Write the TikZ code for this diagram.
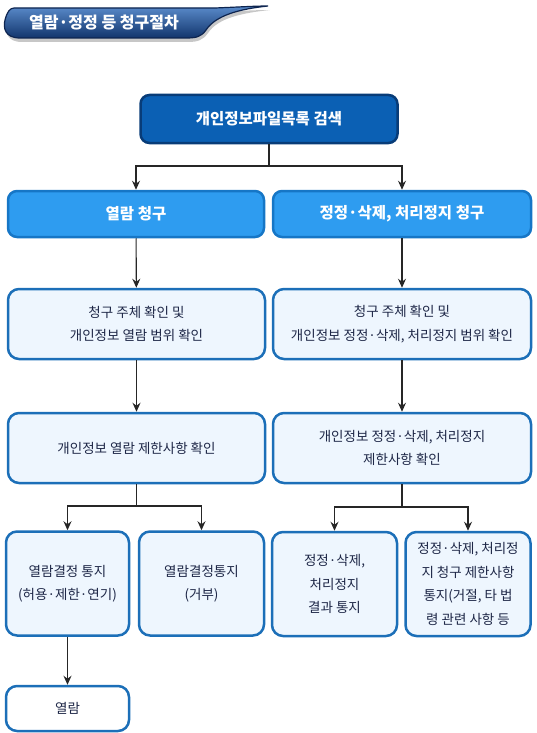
\documentclass[tikz,border=0pt]{standalone}
\usepackage{fontspec}
\setmainfont{Noto Sans CJK KR}
\usepackage{xcolor}
\usetikzlibrary{arrows.meta}
\definecolor{head-fill}{HTML}{0B60B4}
\definecolor{head-line}{HTML}{083C78}
\definecolor{req-fill}{HTML}{2E9CF0}
\definecolor{req-line}{HTML}{1676C6}
\definecolor{step-fill}{HTML}{EEF6FE}
\definecolor{step-line}{HTML}{1C6FB8}
\definecolor{step-text}{HTML}{1E2747}
\definecolor{banner-top}{HTML}{5A8BCB}
\definecolor{banner-mid}{HTML}{2A5A9C}
\definecolor{banner-bot}{HTML}{12356C}
\definecolor{banner-line}{HTML}{0E2550}
\tikzset{
    head-box/.style = {draw=head-line, fill=head-fill, line width=2.5pt, rectangle, rounded corners=9pt, inner sep=0pt, text=white, font=\fontsize{15.5}{20}\selectfont\bfseries},
    req-box/.style = {draw=req-line, fill=req-fill, line width=2.5pt, rectangle, rounded corners=9pt, inner sep=0pt, text=white, font=\fontsize{15.5}{20}\selectfont\bfseries},
    step-box/.style = {draw=step-line, fill=step-fill, line width=2.5pt, rectangle, rounded corners=11pt, inner sep=0pt, align=center, text=step-text, font=\fontsize{13.5}{23.5}\selectfont},
    flow-arrow/.style = {draw=black!85, line width=1.1pt, -{Stealth[length=9pt,width=8pt,inset=3pt]}},
    flow-line/.style = {draw=black!85, line width=1.1pt},
}
\begin{document}
\begin{tikzpicture}[x=1pt,y=-1pt]
\useasboundingbox (0,0) rectangle (536,733);
% title banner
\fill[black!22] (16,12) -- (217,12) .. controls (240,11) and (255,10) .. (270,10)
    .. controls (242,13) and (218,18) .. (208,33) .. controls (203,40) and (198,42) .. (188,42)
    -- (22,42) .. controls (7,42) and (5,32) .. (7,24) .. controls (9,16) and (12,12) .. (16,12) -- cycle;
\shade[top color=banner-top, middle color=banner-mid, bottom color=banner-bot, draw=banner-line, line width=1.2pt]
    (14,8) -- (215,8) .. controls (240,7) and (255,6) .. (268,6)
    .. controls (240,9) and (216,15) .. (206,30) .. controls (201,37) and (196,38) .. (186,38)
    -- (20,38) .. controls (5,38) and (3,28) .. (5,20) .. controls (7,12) and (10,8) .. (14,8) -- cycle;
\node[text=white, font=\fontsize{16}{18}\selectfont\bfseries] (title) at (104,23) {열람·정정 등 청구절차};
% boxes
\node[head-box, minimum width=257pt, minimum height=48pt] (search) at (269,119) {개인정보파일목록 검색};
\node[req-box, minimum width=256pt, minimum height=46pt] (read-req) at (136,214) {열람 청구};
\node[req-box, minimum width=258pt, minimum height=46pt] (fix-req) at (402,214) {정정·삭제, 처리정지 청구};
\node[step-box, minimum width=257pt, minimum height=70pt] (read-check) at (136.5,324) {청구 주체 확인 및\\개인정보 열람 범위 확인};
\node[step-box, minimum width=258pt, minimum height=70pt] (fix-check) at (402,324) {청구 주체 확인 및\\개인정보 정정·삭제, 처리정지 범위 확인};
\node[step-box, minimum width=257pt, minimum height=70pt] (read-limit) at (136.5,448) {개인정보 열람 제한사항 확인};
\node[step-box, minimum width=258pt, minimum height=70pt] (fix-limit) at (402,448) {개인정보 정정·삭제, 처리정지\\제한사항 확인};
\node[step-box, minimum width=123pt, minimum height=104pt] (read-ok) at (67.5,583.5) {열람결정 통지\\(허용·제한·연기)};
\node[step-box, minimum width=125pt, minimum height=104pt] (read-no) at (201.5,583.5) {열람결정통지\\(거부)};
\node[step-box, minimum width=125pt, minimum height=104pt] (fix-done) at (334.5,584) {정정·삭제,\\처리정지\\결과 통지};
\node[step-box, minimum width=125pt, minimum height=104pt] (fix-reject) at (468,584) {정정·삭제, 처리정\\지 청구 제한사항\\통지(거절, 타 법\\령 관련 사항 등};
\node[step-box, fill=white, minimum width=123pt, minimum height=45pt] (read) at (67.5,708.5) {열람};
% connectors
\coordinate (split-top) at (269,166);
\coordinate (split-read) at (136.5,506);
\coordinate (split-fix) at (402,507);
\draw[flow-line] (search.south) -- (split-top);
\draw[flow-arrow] (split-top) -| (read-req.north);
\draw[flow-arrow] (split-top) -| (fix-req.north);
\draw[flow-arrow] (read-req) -- (read-check);
\draw[flow-arrow] (fix-req) -- (fix-check);
\draw[flow-arrow] (read-check) -- (read-limit);
\draw[flow-arrow] (fix-check) -- (fix-limit);
\draw[flow-line] (read-limit.south) -- (split-read);
\draw[flow-arrow] (split-read) -| (read-ok.north);
\draw[flow-arrow] (split-read) -| (read-no.north);
\draw[flow-line] (fix-limit.south) -- (split-fix);
\draw[flow-arrow] (split-fix) -| (fix-done.north);
\draw[flow-arrow] (split-fix) -| (fix-reject.north);
\draw[flow-arrow] (read-ok) -- (read);
\end{tikzpicture}
\end{document}
